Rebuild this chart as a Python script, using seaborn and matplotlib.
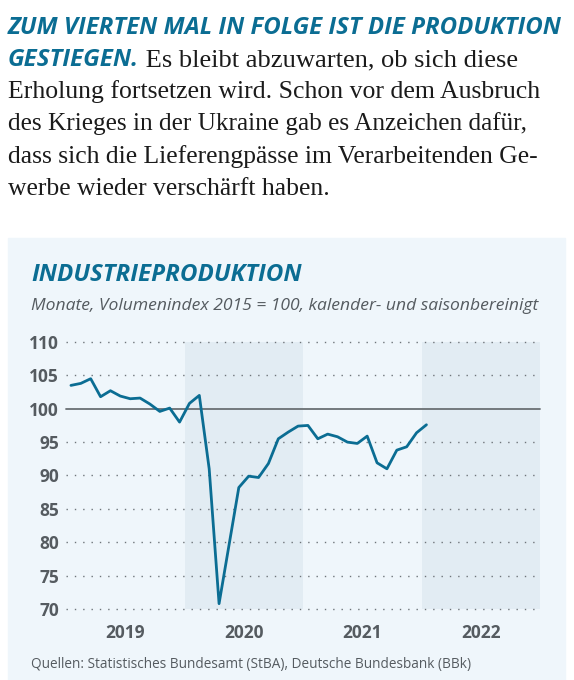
import matplotlib
matplotlib.use("Agg")
import matplotlib.pyplot as plt
import seaborn as sns
import pandas as pd
from matplotlib.patches import Rectangle

# Industrieproduktion, Monatswerte Jan 2019 - Jan 2022 (Index 2015 = 100)
years = ['2019', '2020', '2021', '2022']
index_values = [103.5, 103.8, 104.5, 101.8, 102.7, 101.9, 101.5, 101.6, 100.7, 99.6, 100.1, 98.0,
                100.8, 102.0, 91.0, 70.8, 79.5, 88.2, 89.9, 89.7, 91.8, 95.5, 96.5, 97.4,
                97.5, 95.5, 96.2, 95.8, 95.0, 94.8, 95.9, 91.9, 91.0, 93.8, 94.3, 96.4,
                97.6]
y_ticks = [70, 75, 80, 85, 90, 95, 100, 105, 110]

headline_1 = 'ZUM VIERTEN MAL IN FOLGE IST DIE PRODUKTION'
headline_2 = 'GESTIEGEN.'
body_lines = [' Es bleibt abzuwarten, ob sich diese',
              'Erholung fortsetzen wird. Schon vor dem Ausbruch',
              'des Krieges in der Ukraine gab es Anzeichen dafür,',
              'dass sich die Lieferengpässe im Verarbeitenden Ge-',
              'werbe wieder verschärft haben.']
chart_title = 'INDUSTRIEPRODUKTION'
chart_subtitle = 'Monate, Volumenindex 2015 = 100, kalender- und saisonbereinigt'
source = 'Quellen: Statistisches Bundesamt (StBA), Deutsche Bundesbank (BBk)'

BLUE = '#0b6d93'
GRAY = '#555b60'
W, H = 574, 680

sns.set_theme(style='white')
plt.rcParams['font.family'] = ['Open Sans', 'DejaVu Sans']

fig = plt.figure(figsize=(W / 100, H / 100), dpi=100)
fig.patch.set_facecolor('white')
fig.patches.append(Rectangle((8 / W, 0), (565 - 8) / W, 1 - 238 / H,
                             transform=fig.transFigure, color='#eff6fb', zorder=-5))

renderer = fig.canvas.get_renderer()


def fit(t, width_px):
    bb = t.get_window_extent(renderer)
    t.set_fontsize(t.get_fontsize() * width_px / bb.width)
    return t


def ypos(px):
    return 1 - px / H


# text block above the chart
fit(fig.text(8 / W, ypos(34), headline_1, color=BLUE, fontsize=16, fontweight='bold',
             fontstyle='italic', va='baseline'), 552)
g = fit(fig.text(8 / W, ypos(66), headline_2, color=BLUE, fontsize=16, fontweight='bold',
                 fontstyle='italic', va='baseline'), 131)
gx = g.get_window_extent(renderer).x1
serif = dict(family='Liberation Serif', color='#1b1b1b', va='baseline', fontsize=18)
fit(fig.text(gx / W, ypos(66), body_lines[0], **serif), 512 - gx + 6)
body_w = [533, 519, 532, 0]
for i, line in enumerate(body_lines[1:]):
    t = fig.text(8 / W, ypos(98 + 32.3 * i), line, **serif)
    if body_w[i]:
        fit(t, body_w[i])
    else:
        t.set_fontsize(fig.texts[-2].get_fontsize())

# chart header
fit(fig.text(31 / W, ypos(281), chart_title, color=BLUE, fontsize=17, fontweight='bold',
             fontstyle='italic', va='baseline'), 271)
fit(fig.text(31 / W, ypos(310), chart_subtitle, color=GRAY, fontsize=13,
             fontstyle='italic', va='baseline'), 505)
fit(fig.text(31 / W, ypos(668), source, color=GRAY, fontsize=11, va='baseline'), 441)

ax = fig.add_axes([66 / W, ypos(609), (540 - 66) / W, (609 - 342) / H])
ax.set_facecolor('none')
ax.set_zorder(2)

df = pd.DataFrame({'monat': [i + 0.5 for i in range(len(index_values))],
                   'index': index_values})

ax.axvspan(12, 24, color='#e2ecf3', lw=0, zorder=0)
ax.axvspan(36, 48, color='#e2ecf3', lw=0, zorder=0)
for v in y_ticks:
    if v == 100:
        ax.axhline(v, color='#6a6f73', lw=1.3, zorder=1, clip_on=False)
    else:
        ax.axhline(v, color='#6f757a', lw=1.0, ls=(0, (1, 5)), zorder=1, clip_on=False)

sns.lineplot(data=df, x='monat', y='index', ax=ax, color=BLUE, lw=2.0, zorder=3)

ax.set_xlim(0, 48)
ax.set_ylim(70, 110)
ax.set_yticks(y_ticks)
ax.set_yticklabels([str(v) for v in y_ticks], fontweight='bold', color=GRAY, fontsize=12.5)
ax.set_xticks([6, 18, 30, 42])
ax.set_xticklabels(years, fontweight='bold', color=GRAY, fontsize=12.5)
ax.tick_params(axis='y', length=0, pad=5)
ax.tick_params(axis='x', length=0, pad=11)
ax.set_xlabel('')
ax.set_ylabel('')
for s in ax.spines.values():
    s.set_visible(False)

fig.savefig('out.png', dpi=100)
